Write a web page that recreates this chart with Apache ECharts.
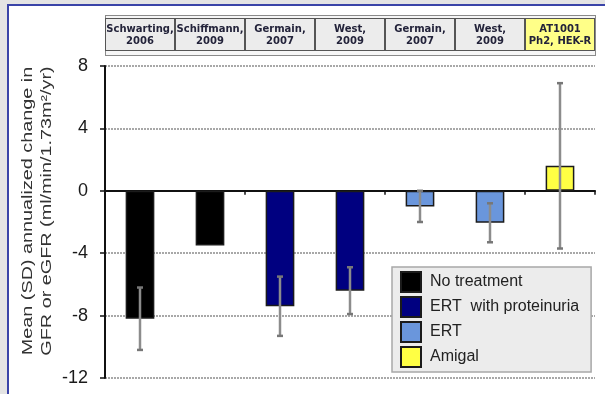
<!DOCTYPE html>
<html>
<head>
<meta charset="utf-8">
<script src="https://cdn.jsdelivr.net/npm/echarts@6/dist/echarts.min.js"></script>
<style>
  html, body { margin: 0; padding: 0; background: #e4e4e4; width: 605px; height: 394px; overflow: hidden; }
  #frame { position: absolute; left: 7px; top: 4px; width: 610px; height: 400px; background: #fff;
           border-left: 2px solid #3a44a8; border-top: 2px solid #3a44a8; }
  #tableFrame { position: absolute; left: 105px; top: 15px; width: 489px; height: 39px;
                border: 1px solid #8a8a8a; background: #f6f6f6; }
  #chart { position: absolute; left: 0; top: 0; width: 605px; height: 394px; }
</style>
</head>
<body>
<div id="frame"></div>
<div id="tableFrame"></div>
<div id="chart"></div>
<script>
// Studies shown along the category axis (header cells)
const studies = ['Schwarting,\n2006', 'Schiffmann,\n2009', 'Germain,\n2007', 'West,\n2009',
                 'Germain,\n2007', 'West,\n2009', 'AT1001\nPh2, HEK-R'];
// Treatment group of each study
const groups = ['No treatment', 'No treatment', 'ERT  with proteinuria', 'ERT  with proteinuria',
                'ERT', 'ERT', 'Amigal'];
// Mean annualized change in GFR / eGFR (ml/min/1.73m²/yr)
const means = [-8.2, -3.5, -7.4, -6.4, -1.0, -2.05, 1.6];
// Standard deviation (null = not reported)
const sds = [2.0, null, 1.9, 1.5, 1.0, 1.25, 5.3];
// Y axis range and step
const yMin = -12, yMax = 8, yStep = 4;
const yTitle = 'Mean (SD) annualized change in\nGFR or eGFR (ml/min/1.73m²/yr)';

const groupNames = ['No treatment', 'ERT  with proteinuria', 'ERT', 'Amigal'];
const groupColors = ['#000000', '#000080', '#6a96dc', '#ffff44'];

const chart = echarts.init(document.getElementById('chart'), null, { renderer: 'canvas' });

const barSeries = groupNames.map((g, gi) => ({
  name: g,
  type: 'bar',
  stack: 'all',
  barWidth: '41%',
  itemStyle: { color: groupColors[gi], borderColor: '#1b1b1b', borderWidth: 1.5 },
  data: means.map((m, i) => (groups[i] === g ? m : '-')),
  z: 2
}));

const errData = [];
means.forEach((m, i) => {
  if (sds[i] != null) errData.push([i, m - sds[i], m + sds[i]]);
});

const errSeries = {
  type: 'custom',
  name: 'sd',
  z: 5,
  silent: true,
  data: errData,
  encode: { x: 0, y: [1, 2] },
  renderItem: function (params, api) {
    const x = api.coord([api.value(0), 0])[0];
    const lo = api.coord([api.value(0), api.value(1)])[1];
    const hi = api.coord([api.value(0), api.value(2)])[1];
    const cw = 3;
    const lineStyle = { stroke: '#8c8c8c', lineWidth: 2.5 };
    const capStyle = { stroke: '#777', lineWidth: 2.5 };
    return {
      type: 'group',
      children: [
        { type: 'line', shape: { x1: x, y1: lo, x2: x, y2: hi }, style: lineStyle },
        { type: 'line', shape: { x1: x - cw, y1: lo, x2: x + cw, y2: lo }, style: capStyle },
        { type: 'line', shape: { x1: x - cw, y1: hi, x2: x + cw, y2: hi }, style: capStyle }
      ]
    };
  }
};

const topAxisData = studies.map((s, i) => (
  i === studies.length - 1
    ? { value: s, textStyle: { backgroundColor: '#ffff88' } }
    : s
));

chart.setOption({
  animation: false,
  grid: { left: 105, right: 10, top: 66, bottom: 16 },
  graphic: [
    {
      // y axis title, drawn tall and narrow like the tick numerals
      type: 'text',
      x: 37,
      y: 211,
      rotation: Math.PI / 2,
      scaleX: 1.32,
      style: {
        text: yTitle,
        font: '15px "Liberation Sans", Arial',
        fill: '#333',
        lineHeight: 19,
        align: 'center',
        verticalAlign: 'middle'
      }
    }
  ],
  legend: {
    data: groupNames,
    orient: 'vertical',
    left: 392,
    top: 267,
    backgroundColor: '#ececec',
    borderColor: '#a8a8a8',
    borderWidth: 1.5,
    padding: [4, 12, 4, 8],
    itemWidth: 20,
    itemHeight: 20,
    itemGap: 3,
    icon: 'rect',
    textStyle: { fontFamily: 'Liberation Sans, Arial', fontSize: 16, color: '#222', padding: [0, 0, 0, 4] }
  },
  xAxis: [
    {
      type: 'category',
      data: studies,
      axisLine: { onZero: true, lineStyle: { color: '#111', width: 2 } },
      axisTick: { show: true, length: 4, lineStyle: { color: '#111', width: 1.5 } },
      axisLabel: { show: false },
      splitLine: { show: false }
    },
    {
      type: 'category',
      position: 'top',
      data: topAxisData,
      axisLine: { show: false },
      axisTick: { show: false },
      axisLabel: {
        interval: 0,
        margin: 16,
        fontFamily: 'DejaVu Sans',
        fontSize: 10,
        fontWeight: 'bold',
        color: '#23233a',
        lineHeight: 12,
        width: 64,
        overflow: 'none',
        padding: [4, 2, 3, 2],
        backgroundColor: '#ececec',
        borderColor: '#555',
        borderWidth: 1
      }
    }
  ],
  yAxis: {
    type: 'value',
    min: yMin,
    max: yMax,
    interval: yStep,
    axisLine: { show: true, lineStyle: { color: '#111', width: 2 } },
    axisTick: { show: true, length: 5, lineStyle: { color: '#111', width: 1.5 } },
    axisLabel: { fontFamily: 'Liberation Sans, Arial', fontSize: 18, color: '#1a1a1a', margin: 17 },
    splitLine: { show: true, lineStyle: { color: '#8c8c8c', width: 1.5, type: [2, 1] } }
  },
  series: [...barSeries, errSeries]
});
</script>
</body>
</html>
